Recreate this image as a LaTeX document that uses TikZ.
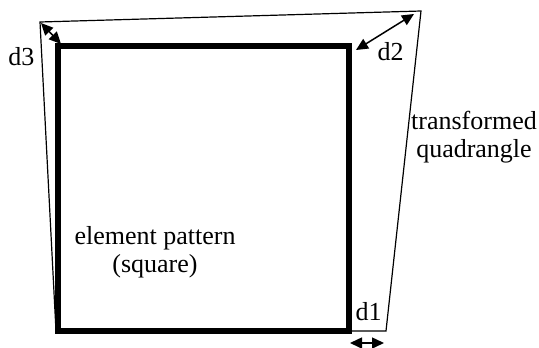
\documentclass[tikz,border=0pt]{standalone}
\usepackage{fontspec}
\setmainfont{Liberation Serif}
\newfontfamily\lserif{Liberation Serif}
\usetikzlibrary{arrows.meta}
\begin{document}
\begin{tikzpicture}[x=1pt,y=-1pt,
  lbl/.style={inner sep=0pt,anchor=base,font=\lserif\fontsize{26}{28}\selectfont,align=center},
  quadline/.style={line width=1.2pt,line join=miter},
  squareline/.style={line width=5.5pt,line join=miter},
  tip/.style={Triangle[length=12pt,width=11pt]},
  dimarrow/.style={line width=1.5pt,{Triangle[length=12pt,width=11pt]}-{Triangle[length=12pt,width=11pt]}}]
\useasboundingbox (0,0) rectangle (539,348);
% quadrangle corners
\coordinate (q1) at (40,22);
\coordinate (q2) at (421,11);
\coordinate (q3) at (386,331);
\coordinate (q4) at (56,331);
% square corners
\coordinate (s1) at (58,46);
\coordinate (s2) at (349,46);
\coordinate (s3) at (349,331);
\coordinate (s4) at (58,331);
\draw[quadline] (q1) -- (q2) -- (q3) -- (q4) -- cycle;
\draw[squareline] (s1) -- (s2) -- (s3) -- (s4) -- cycle;
% dimension arrows
\coordinate (a3s) at (41,23);
\coordinate (a3e) at (61,44);
\coordinate (a2s) at (356,50);
\coordinate (a2e) at (414,14);
\coordinate (a1s) at (350,343);
\coordinate (a1e) at (384,343);
\draw[dimarrow] (a3s) -- (a3e);
\draw[dimarrow] (a2s) -- (a2e);
\draw[dimarrow] (a1s) -- (a1e);
% labels
\node[lbl] (d3) at (21.5,65) {d3};
\node[lbl] (d2) at (390.5,60) {d2};
\node[lbl] (d1) at (368.5,320) {d1};
\node[lbl] (tq) at (474,157) {transformed\\quadrangle};
\node[lbl] (ep) at (155,272) {element pattern\\(square)};
\end{tikzpicture}
\end{document}
